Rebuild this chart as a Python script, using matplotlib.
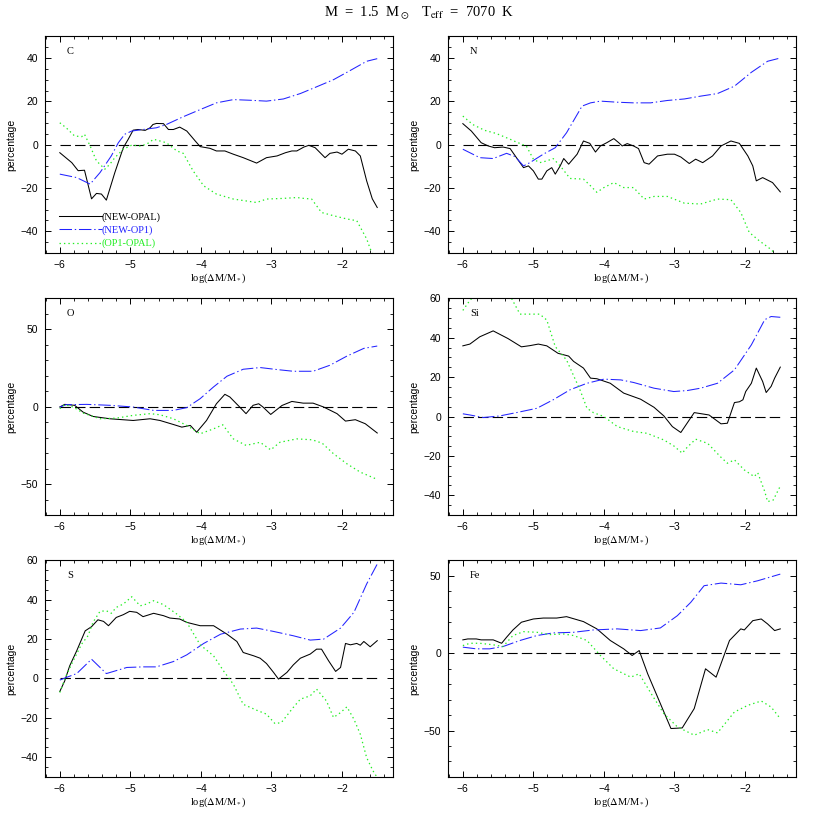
import numpy as np
import matplotlib
matplotlib.use("Agg")
import matplotlib.pyplot as plt
from matplotlib.ticker import MultipleLocator

plt.rcParams['font.family'] = ['Liberation Sans', 'DejaVu Sans']
plt.rcParams['mathtext.fontset'] = 'stix'
plt.rcParams['lines.scale_dashes'] = False

# ---- C ----
c_opal_x = [-6, -5.83, -5.74, -5.65, -5.55, -5.48, -5.41, -5.34, -5.22, -5.1, -5.03, -4.96, -4.89, -4.79,
            -4.72, -4.68, -4.63, -4.53, -4.46, -4.39, -4.3, -4.2, -4.08, -4.01, -3.87, -3.78, -3.66, -3.54,
            -3.4, -3.21, -3.07, -2.92, -2.8, -2.71, -2.64, -2.54, -2.47, -2.38, -2.24, -2.17, -2.07, -2.0,
            -1.91, -1.81, -1.74, -1.65, -1.57, -1.5]
c_opal_y = [-3.7, -8.3, -12, -11.8, -25, -22.5, -22.8, -25.6, -12.9, -1.4, 2.5, 6.7, 7, 6.6,
            7.8, 9.3, 9.8, 9.7, 7, 7, 8.1, 6.3, 1.7, -0.9, -1.7, -2.9, -2.9, -4.4,
            -6, -8.5, -6, -5.2, -3.7, -2.9, -2.9, -1.1, -0.3, -1.4, -6, -4, -3.4, -4.4,
            -2.1, -2.9, -5.2, -16.7, -25, -29]
c_op1_x = [-6, -5.76, -5.57, -5.43, -5.27, -5.17, -5.08, -4.98, -4.82, -4.63, -4.49, -4.25, -4.01, -3.78,
           -3.54, -3.3, -3.07, -2.83, -2.59, -2.36, -2.12, -1.88, -1.65, -1.5]
c_op1_y = [-13.6, -15.2, -18.2, -12.9, -5.2, 0.9, 4.8, 6.3, 7, 7.8, 9.3, 12.9, 16.2, 19.3,
           20.8, 20.5, 20.1, 21.1, 23.6, 26.7, 30, 34.3, 38.5, 39.7]
c_diff_x = [-6, -5.91, -5.79, -5.69, -5.65, -5.57, -5.48, -5.36, -5.29, -5.22, -5.1, -4.98, -4.86, -4.77,
            -4.67, -4.58, -4.49, -4.34, -4.25, -4.11, -3.96, -3.78, -3.54, -3.21, -3.07, -2.83, -2.64,
            -2.54, -2.43, -2.29, -2.12, -1.93, -1.79, -1.65, -1.6, -1.5]
c_diff_y = [10.1, 7.8, 4, 3.7, 4.8, -0.6, -7.5, -11.3, -9, -6, -2.1, -0.2, -0.6, 0.2,
            2.5, 1.7, 0.9, -2.9, -4, -12.1, -19, -22.8, -25.1, -26.7, -25.1, -24.8, -24.4,
            -24.8, -25.1, -31.3, -32.8, -34.3, -35.1, -43.5, -48, -56]

# ---- N ----
n_opal_x = [-6, -5.88, -5.74, -5.64, -5.55, -5.43, -5.33, -5.24, -5.14, -5.07, -5.0, -4.93, -4.88, -4.81,
            -4.74, -4.69, -4.62, -4.57, -4.5, -4.38, -4.29, -4.2, -4.12, -4.05, -3.96, -3.86, -3.79,
            -3.74, -3.67, -3.58, -3.51, -3.43, -3.36, -3.24, -3.1, -3.0, -2.91, -2.79, -2.7, -2.6,
            -2.46, -2.34, -2.2, -2.08, -1.96, -1.89, -1.84, -1.75, -1.61, -1.5]
n_opal_y = [9.7, 6.3, 0.9, -0.6, -1.4, -1.1, -1.8, -6, -10.6, -9.8, -12.1, -15.9, -15.9, -12.1,
            -10.6, -13.6, -9.8, -6.4, -9, -4.4, 1.7, 0.6, -3.4, -0.6, 0.9, 2.8, 0.9,
            -0.6, 0.5, -0.6, -1.8, -8.3, -9, -5.2, -4.4, -4.4, -5.7, -8.7, -6.7, -8.3,
            -5.2, -0.6, 1.7, 0.6, -5.2, -9.8, -16.7, -15.2, -17.5, -21.8]
n_op1_x = [-6, -5.76, -5.57, -5.38, -5.26, -5.14, -5.05, -4.86, -4.69, -4.53, -4.31, -4.19, -4.05, -3.81,
           -3.58, -3.34, -3.1, -2.86, -2.63, -2.39, -2.15, -1.91, -1.68, -1.5]
n_op1_y = [-2.1, -6, -6.4, -4, -5.5, -9.8, -8.3, -4.4, -1.4, 5.5, 17.8, 19.3, 20.1, 19.6,
           19.3, 19.3, 20.4, 21.1, 22.4, 23.6, 27, 33.4, 38.5, 40]
n_diff_x = [-6, -5.86, -5.69, -5.53, -5.33, -5.24, -5.1, -5.0, -4.91, -4.81, -4.72, -4.62, -4.48, -4.29,
            -4.19, -4.1, -4.0, -3.86, -3.72, -3.58, -3.43, -3.29, -3.1, -2.86, -2.63, -2.39, -2.2,
            -2.06, -1.94, -1.8, -1.63, -1.5]
n_diff_y = [13.2, 9.3, 6.6, 5.2, 2.5, 1.2, -0.6, -6.7, -8.3, -7.5, -6.4, -9.8, -15.6, -15.9,
            -19, -22, -19.8, -17.5, -19.8, -19.8, -25.1, -23.9, -23.9, -27, -27.4, -25.1, -25.4,
            -31.3, -40.5, -44.3, -48.4, -53]

# ---- O ----
o_opal_x = [-6, -5.93, -5.79, -5.67, -5.53, -5.29, -4.96, -4.72, -4.58, -4.39, -4.27, -4.15, -4.06, -3.92,
            -3.78, -3.66, -3.59, -3.45, -3.36, -3.26, -3.18, -3.12, -3.01, -2.85, -2.71, -2.55, -2.41,
            -2.26, -2.07, -1.95, -1.81, -1.67, -1.5]
o_opal_y = [-0.2, 1.5, 0.9, -3.5, -6.3, -7.8, -8.9, -7.8, -8.9, -11.5, -13.2, -12.1, -16.5, -8.9,
            1.9, 8, 6.3, -0.2, -4.5, 0.9, 1.9, -0.2, -5, 0.8, 3.4, 2.3, 2.3,
            -0.2, -4.5, -9.3, -8.4, -11, -17]
o_op1_x = [-6, -5.91, -5.62, -5.29, -4.96, -4.67, -4.39, -4.2, -4.01, -3.82, -3.63, -3.4, -3.16, -2.92,
           -2.69, -2.41, -2.17, -1.93, -1.69, -1.5]
o_op1_y = [-0.2, 1.3, 1.5, 0.9, -0.2, -2.4, -2.4, -0.6, 5.2, 12.8, 19.7, 24.2, 25.3, 24,
           22.9, 22.9, 26.8, 32.7, 37.7, 39.2]
o_diff_x = [-6, -5.93, -5.81, -5.67, -5.43, -5.2, -4.96, -4.72, -4.58, -4.39, -4.2, -4.01, -3.82, -3.69,
            -3.54, -3.36, -3.16, -3.01, -2.88, -2.64, -2.42, -2.28, -2.12, -1.93, -1.74, -1.5]
o_diff_y = [-1.3, 1.3, -0.2, -4.1, -7.8, -7.4, -5.6, -4.5, -5.2, -7.8, -12.1, -17.5, -14.3, -11.7,
            -20.8, -25, -23, -27.9, -23, -20.8, -21.4, -23.6, -30.4, -36.9, -42.3, -47]

# ---- Si ----
si_opal_x = [-6, -5.9, -5.76, -5.57, -5.36, -5.17, -5.05, -4.93, -4.81, -4.65, -4.5, -4.43, -4.29, -4.19,
             -4.1, -3.91, -3.72, -3.48, -3.29, -3.15, -3.03, -2.91, -2.72, -2.51, -2.34, -2.25, -2.15,
             -2.08, -2.03, -1.99, -1.91, -1.84, -1.75, -1.7, -1.63, -1.58, -1.5]
si_opal_y = [35.9, 36.8, 40.5, 43.5, 39.6, 35.4, 36, 36.8, 35.9, 32.1, 30.7, 28, 24.6, 19.5,
             19.2, 16.9, 11.9, 8.8, 4.7, 0.3, -5.1, -8.1, 2, 0.8, -3.7, -3.4, 7.1,
             7.5, 8.5, 12.7, 16.9, 24.6, 17.8, 12.2, 15.3, 19.5, 25.1]
si_op1_x = [-6, -5.9, -5.71, -5.48, -5.24, -4.95, -4.72, -4.48, -4.24, -4.0, -3.76, -3.58, -3.29, -3.01,
            -2.82, -2.63, -2.39, -2.15, -1.91, -1.72, -1.63, -1.5]
si_op1_y = [1.4, 0.8, -0.5, 0.3, 2, 4.2, 8.5, 13.6, 16.9, 19, 18.6, 17.3, 14.4, 12.7,
            13.2, 14.4, 16.9, 23.7, 36.4, 49.2, 50.8, 50.4]
si_diff_x = [-6, -5.9, -5.6, -5.31, -5.19, -4.91, -4.81, -4.69, -4.53, -4.34, -4.24, -4.15, -4.0, -3.81,
             -3.58, -3.39, -3.15, -3.01, -2.89, -2.82, -2.7, -2.53, -2.34, -2.25, -2.15, -2.01, -1.87,
             -1.82, -1.72, -1.68, -1.6, -1.5]
si_diff_y = [53.9, 59, 70, 60, 52, 52, 49, 35.5, 28.7, 13.6, 4.2, 2, 0, -5.1,
             -7.6, -8.5, -11.9, -14.9, -18.6, -15.6, -11.5, -13.6, -20.7, -23.7, -22, -27.1, -30.5,
             -28.5, -38.1, -43.2, -42.4, -35.3]

# ---- S ----
s_opal_x = [-6, -5.93, -5.86, -5.76, -5.64, -5.55, -5.46, -5.38, -5.31, -5.2, -5.1, -5.01, -4.91, -4.82,
            -4.67, -4.53, -4.44, -4.3, -4.2, -4.01, -3.82, -3.63, -3.49, -3.4, -3.25, -3.16, -3.07,
            -2.97, -2.9, -2.78, -2.69, -2.59, -2.45, -2.36, -2.29, -2.19, -2.09, -2.02, -1.95, -1.88,
            -1.79, -1.74, -1.69, -1.6, -1.5]
s_opal_y = [-6.6, -1.2, 6.4, 14.1, 24.2, 26.3, 29.8, 29, 26.8, 31, 32.4, 34.1, 33.6, 31.4,
            33.1, 31.9, 30.7, 30.2, 28.5, 26.8, 26.8, 22.5, 18.8, 13.2, 11.5, 10.3, 7.6,
            3.1, -0.3, 3.1, 6.9, 10.3, 12.4, 14.9, 14.9, 9, 3.6, 5.6, 17.8, 17.1,
            17.8, 16.9, 18.8, 16.1, 19.2]
s_op1_x = [-6, -5.91, -5.76, -5.55, -5.34, -5.05, -4.82, -4.63, -4.39, -4.2, -3.96, -3.72, -3.44, -3.21,
           -2.97, -2.69, -2.45, -2.26, -2.02, -1.83, -1.65, -1.5]
s_op1_y = [-0.8, 0.5, 2.5, 9.8, 2.5, 5.6, 5.9, 5.9, 8.6, 12, 17.8, 22.5, 25.1, 25.6,
           23.9, 21.7, 19.5, 20, 25.6, 33.6, 48, 58.1]
s_diff_x = [-6, -5.91, -5.81, -5.69, -5.6, -5.53, -5.43, -5.34, -5.27, -5.2, -5.1, -4.98, -4.86, -4.77,
            -4.67, -4.53, -4.34, -4.2, -4.01, -3.82, -3.68, -3.54, -3.4, -3.21, -3.07, -2.95, -2.86,
            -2.69, -2.59, -2.45, -2.36, -2.22, -2.12, -2.02, -1.93, -1.83, -1.74, -1.65, -1.56, -1.5]
s_diff_y = [-7.1, 1.4, 9, 17.5, 21.7, 28.5, 34.1, 34.4, 33.1, 36.1, 37.8, 41.5, 36.9, 37.8,
            39.5, 37.5, 32.7, 28.5, 17.1, 11.5, 3.9, -2.9, -13.1, -16.1, -18.1, -22.9, -22.4,
            -14.7, -10.5, -8.8, -5.4, -11.4, -19.8, -17.3, -14.4, -20.7, -28.3, -40.2, -46.9, -50.3]

# ---- Fe ----
fe_opal_x = [-6, -5.93, -5.81, -5.74, -5.57, -5.45, -5.38, -5.29, -5.17, -5.0, -4.86, -4.67, -4.53, -4.29,
             -4.1, -3.91, -3.72, -3.6, -3.5, -3.38, -3.24, -3.05, -2.89, -2.72, -2.56, -2.41, -2.22,
             -2.06, -2.01, -1.89, -1.77, -1.68, -1.58, -1.5]
fe_opal_y = [8.6, 9.2, 9.2, 8.6, 8.6, 6.4, 10.3, 15, 20, 22.1, 22.7, 22.7, 23.6, 20.4,
             15.7, 8.2, 2.8, -1.5, 1.7, -13.3, -28.3, -48.7, -48.3, -35.8, -10.1, -15.5, 8.2,
             15.7, 15, 21, 22.1, 18.9, 14.6, 15.7]
fe_op1_x = [-6, -5.81, -5.62, -5.43, -5.19, -4.95, -4.72, -4.43, -4.15, -3.81, -3.48, -3.2, -2.96, -2.77,
            -2.58, -2.34, -2.06, -1.82, -1.5]
fe_op1_y = [3.9, 2.8, 2.8, 4.3, 8.2, 11.4, 13.1, 13.5, 15, 15.7, 14.6, 16.3, 24.2, 32.8,
            43.6, 45.3, 44.2, 46.8, 51.1]
fe_diff_x = [-6, -5.9, -5.76, -5.57, -5.43, -5.29, -5.14, -4.95, -4.77, -4.57, -4.43, -4.24, -4.05, -3.86,
             -3.62, -3.5, -3.33, -3.15, -2.96, -2.72, -2.53, -2.39, -2.15, -1.96, -1.77, -1.63, -1.5]
fe_diff_y = [4.9, 6.4, 6.4, 5.4, 4.3, 11.4, 13.9, 13.5, 12, 12.4, 11.4, 8.2, -1.5, -10.1,
             -15.5, -13.3, -26.2, -39.1, -47.6, -53, -49.4, -51.5, -38, -33.7, -30.9, -34.8, -42.3]

panels = [
    ("C", (c_opal_x, c_opal_y), (c_op1_x, c_op1_y), (c_diff_x, c_diff_y), (-50, 50), 20, 5),
    ("N", (n_opal_x, n_opal_y), (n_op1_x, n_op1_y), (n_diff_x, n_diff_y), (-50, 50), 20, 5),
    ("O", (o_opal_x, o_opal_y), (o_op1_x, o_op1_y), (o_diff_x, o_diff_y), (-70, 70), 50, 10),
    ("Si", (si_opal_x, si_opal_y), (si_op1_x, si_op1_y), (si_diff_x, si_diff_y), (-50, 60), 20, 5),
    ("S", (s_opal_x, s_opal_y), (s_op1_x, s_op1_y), (s_diff_x, s_diff_y), (-50, 60), 20, 5),
    ("Fe", (fe_opal_x, fe_opal_y), (fe_op1_x, fe_op1_y), (fe_diff_x, fe_diff_y), (-80, 60), 50, 10),
]

serif = ['Liberation Serif', 'DejaVu Serif']

fig = plt.figure(figsize=(8.3, 8.3), dpi=100)
lefts = [0.0542, 0.5398]
bottoms = [0.6952, 0.3795, 0.0639]
w, h = 0.419, 0.261

for i, (name, opal, op1, diff, ylim, major, minor) in enumerate(panels):
    ax = fig.add_axes([lefts[i % 2], bottoms[i // 2], w, h])
    ax.hlines(0, -6, -1.5, color='black', lw=0.8, linestyles=(0, (7.5, 3)))
    ax.plot(*opal, color='black', lw=0.75, label='(NEW-OPAL)')
    ax.plot(*op1, color='#2222ff', lw=0.75, dashes=(9, 2, 1, 2), label='(NEW-OP1)')
    ax.plot(*diff, color='#22ee22', lw=0.9, dashes=(1, 2.2), label='(OP1-OPAL)')
    ax.set_xlim(-6.21, -1.28)
    ax.set_ylim(*ylim)
    ax.xaxis.set_major_locator(MultipleLocator(1))
    ax.xaxis.set_minor_locator(MultipleLocator(0.2))
    ax.yaxis.set_major_locator(MultipleLocator(major))
    ax.yaxis.set_minor_locator(MultipleLocator(minor))
    ax.tick_params(which='both', direction='in', top=True, right=True, labelsize=7.5, pad=5)
    ax.tick_params(which='major', length=4.5, width=0.7)
    ax.tick_params(which='minor', length=2.5, width=0.6)
    for s in ax.spines.values():
        s.set_linewidth(0.8)
    ax.set_xlabel(r'log($\Delta$M/M$_*$)', family=serif, fontsize=7.5, labelpad=1)
    ax.set_ylabel('percentage', fontsize=7.5, labelpad=3)
    ax.text(0.063, 0.95, name, transform=ax.transAxes, family=serif,
            fontsize=7.5, va='top', ha='left')
    if name == "C":
        ax.legend(loc='lower left', bbox_to_anchor=(0.022, -0.008), frameon=False,
                  handlelength=4.1, handletextpad=0.0, labelspacing=0.35, borderaxespad=0.2,
                  prop={'family': serif, 'size': 7.5}, labelcolor='linecolor')

fig.text(0.505, 0.984, r'M  =  1.5  M$_\odot$   T$_{\rm eff}$  =  7070  K',
         ha='center', va='center', fontsize=10.5, family=serif)

fig.savefig('out.png', dpi=100)
